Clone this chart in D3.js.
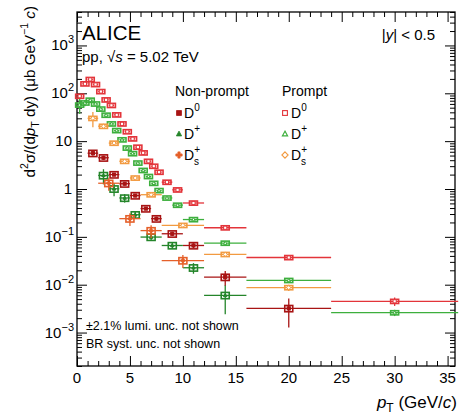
<!DOCTYPE html>
<html><head><meta charset="utf-8">
<script src="https://cdn.jsdelivr.net/npm/d3@7"></script>
<style>body{margin:0;background:#fff}svg{font-family:"Liberation Sans",Arial,sans-serif}</style>
</head><body><svg id="c" width="459" height="418"></svg>
<script>
// ---------- data ----------
const xTicksMajor = [0,5,10,15,20,25,30,35];
const yTickLabels = [{v:1e3,b:"10",e:"3"},{v:1e2,b:"10",e:"2"},{v:10,b:"10",e:""},{v:1,b:"1",e:""},{v:0.1,b:"10",e:"\u22121"},{v:0.01,b:"10",e:"\u22122"},{v:0.001,b:"10",e:"\u22123"}];

const edgesPrompt = [0,0.5,1,1.5,2,2.5,3,3.5,4,4.5,5,5.5,6,6.5,7,7.5,8,9,10,12,16,24,36];
const promptD0 = [87,158,195,153,109,73,56,35.5,23,15.8,11.2,7.5,5.7,3.8,3.0,2.25,1.39,0.96,0.51,0.155,0.037,0.0045];
const promptD0Stat = [0.05,0.04,0.03,0.03,0.03,0.03,0.03,0.03,0.03,0.03,0.03,0.03,0.03,0.03,0.03,0.03,0.03,0.03,0.04,0.05,0.1,0.2];
const promptDplus = [57,63,72,60,47,35,23,16.7,10.7,7.2,5.5,3.5,2.45,1.83,1.32,0.93,0.65,0.46,0.23,0.074,0.0123,0.0026];
const promptDplusStat = [0.35,0.15,0.08,0.05,0.05,0.05,0.05,0.05,0.05,0.05,0.05,0.05,0.05,0.05,0.05,0.05,0.05,0.05,0.05,0.1,0.1,0.15];
const edgesPromptDs = [1,2,3,4,5,6,8,12,16,24];
const promptDs = [30,20.5,9.1,3.8,1.7,0.76,0.174,0.043,0.0087];
const promptDsStat = [0.35,0.12,0.08,0.08,0.08,0.08,0.08,0.1,0.15];

const edgesNpD0 = [1,2,3,4,5,6,7,8,10,12,16,24];
const nonpromptD0 = [5.6,4.5,2.0,1.29,0.73,0.39,0.24,0.116,0.066,0.0144,0.0032];
const nonpromptD0Stat = [0.12,0.1,0.08,0.08,0.08,0.08,0.1,0.1,0.12,0.35,0.6];
const edgesNpDplus = [2,3,4,5,6,8,10,12,16];
const nonpromptDplus = [1.92,1.01,0.65,0.29,0.099,0.066,0.0226,0.006];
const nonpromptDplusStat = [0.35,0.3,0.2,0.15,0.15,0.15,0.25,0.6];
const edgesNpDs = [2,4,6,8,12];
const nonpromptDs = [1.32,0.24,0.135,0.032];
const nonpromptDsStat = [0.3,0.3,0.3,0.3];
const systPrompt = 0.1, systNonprompt = 0.15;

// ---------- layout ----------
const L=77,T=12,R=455,B=366;
const x=d3.scaleLinear().domain([0,35.7]).range([L,R]);
const y=d3.scaleLog().domain([2e-4,5e3]).range([B,T]);
const svg=d3.select('#c');

const col={pD0:"#e3343a",pDp:"#3daf3d",pDs:"#f29a40",nD0:"#a81414",nDp:"#24852a",nDs:"#e5602a"};

// axes
const xMinor=d3.range(0,36,1).filter(v=>v%5!==0);
const yMinor=[];
for(let e=-4;e<=3;e++) for(let k=2;k<=9;k++){const v=k*Math.pow(10,e); if(v>=2e-4&&v<=5e3) yMinor.push(v);}
const yMajor=[1e-3,1e-2,1e-1,1,10,100,1000];
function ax(gen,tr,vals,size){
  const g=svg.append('g').attr('transform',tr).call(gen.tickValues(vals).tickSize(size).tickFormat(''));
  g.select('.domain').remove();
  g.selectAll('line').attr('stroke','#000').attr('stroke-width',1);
}
ax(d3.axisBottom(x),`translate(0,${B})`,xTicksMajor,-10);
ax(d3.axisBottom(x),`translate(0,${B})`,xMinor,-5);
ax(d3.axisTop(x),`translate(0,${T})`,xTicksMajor,-10);
ax(d3.axisTop(x),`translate(0,${T})`,xMinor,-5);
ax(d3.axisLeft(y),`translate(${L},0)`,yMajor,-10);
ax(d3.axisLeft(y),`translate(${L},0)`,yMinor,-5);
ax(d3.axisRight(y),`translate(${R},0)`,yMajor,-10);
ax(d3.axisRight(y),`translate(${R},0)`,yMinor,-5);
svg.append('rect').attr('x',L).attr('y',T).attr('width',R-L).attr('height',B-T).attr('fill','none').attr('stroke','#000').attr('stroke-width',1.3);

// tick labels
svg.selectAll('.xl').data(xTicksMajor).enter().append('text').attr('x',d=>x(d)).attr('y',383)
  .attr('text-anchor','middle').attr('font-size',15).text(d=>d);
yTickLabels.forEach(d=>{
  const t=svg.append('text').attr('x',d.e?74:72).attr('y',y(d.v)+5).attr('text-anchor','end').attr('font-size',15);
  t.append('tspan').text(d.b);
  if(d.e) t.append('tspan').attr('font-size',11).attr('dy',-7).text(d.e);
});

// axis titles
const xt=svg.append('text').attr('x',457).attr('y',408).attr('text-anchor','end').attr('font-size',17);
xt.append('tspan').attr('font-style','italic').text('p');
xt.append('tspan').attr('font-size',12).attr('dy',4).text('T');
xt.append('tspan').attr('dy',-4).text(' (GeV/');
xt.append('tspan').attr('font-style','italic').text('c');
xt.append('tspan').text(')');

const yt=svg.append('text').attr('transform','translate(35,6) rotate(-90)').attr('text-anchor','end').attr('font-size',15.2);
yt.append('tspan').text('d');
yt.append('tspan').attr('font-size',10.5).attr('dy',-7).text('2');
yt.append('tspan').attr('dy',7).text('\u03c3/(d');
yt.append('tspan').attr('font-style','italic').text('p');
yt.append('tspan').attr('font-size',10.5).attr('dy',4).text('T');
yt.append('tspan').attr('dy',-4).text(' dy) (\u03bcb GeV');
yt.append('tspan').attr('font-size',10.5).attr('dy',-7).text('\u22121');
yt.append('tspan').attr('dy',7).text(' ');
yt.append('tspan').attr('font-style','italic').text('c');
yt.append('tspan').text(')');

// markers
function marker(g,cx,cy,type,color,s){
  if(type==='sq'){g.append('rect').attr('x',cx-s).attr('y',cy-s).attr('width',2*s).attr('height',2*s);}
  else if(type==='tri'){g.append('path').attr('d',`M${cx},${cy-s*1.2}L${cx+s*1.1},${cy+s*0.8}L${cx-s*1.1},${cy+s*0.8}Z`);}
  else if(type==='dia'){g.append('path').attr('d',`M${cx},${cy-s*1.3}L${cx+s*1.3},${cy}L${cx},${cy+s*1.3}L${cx-s*1.3},${cy}Z`);}
  else if(type==='cross'){const a=s*0.45,b=s*1.3;g.append('path').attr('d',`M${cx-a},${cy-b}h${2*a}v${b-a}h${b-a}v${2*a}h${-(b-a)}v${b-a}h${-2*a}v${-(b-a)}h${-(b-a)}v${-2*a}h${b-a}Z`);}
}
function series(edges,vals,stat,syst,color,type,filled){
  const g=svg.append('g').attr('stroke',color).attr('stroke-width',1.3);
  vals.forEach((v,i)=>{
    const lo=edges[i],hi=edges[i+1],c=(lo+hi)/2;
    g.append('line').attr('x1',x(lo)).attr('x2',x(hi)).attr('y1',y(v)).attr('y2',y(v));
    g.append('line').attr('x1',x(c)).attr('x2',x(c)).attr('y1',y(v*(1-stat[i]))).attr('y2',y(v*(1+stat[i])));
    g.append('rect').attr('x',x(c)-4).attr('width',8).attr('y',y(v*(1+syst))).attr('height',y(v*(1-syst))-y(v*(1+syst)))
      .attr('fill','none').attr('stroke-width',1.6);
    const mg=g.append('g').attr('fill',filled?color:'#fff').attr('stroke-width',1);
    marker(mg,x(c),y(v),type,color,1.6);
  });
}
series(edgesPrompt,promptD0,promptD0Stat,systPrompt,col.pD0,'sq',false);
series(edgesPrompt,promptDplus,promptDplusStat,systPrompt,col.pDp,'tri',false);
series(edgesPromptDs,promptDs,promptDsStat,systPrompt,col.pDs,'dia',false);
series(edgesNpD0,nonpromptD0,nonpromptD0Stat,systNonprompt,col.nD0,'sq',true);
series(edgesNpDplus,nonpromptDplus,nonpromptDplusStat,systNonprompt,col.nDp,'tri',true);
series(edgesNpDs,nonpromptDs,nonpromptDsStat,systNonprompt,col.nDs,'cross',true);

// texts
svg.append('text').attr('x',82).attr('y',40).attr('font-size',20.5).text('ALICE');
const pp=svg.append('text').attr('x',82).attr('y',62).attr('font-size',15);
pp.append('tspan').text('pp, \u221a');
pp.append('tspan').attr('font-style','italic').text('s');
pp.append('tspan').text(' = 5.02 TeV');
const yy=svg.append('text').attr('x',435).attr('y',40).attr('text-anchor','end').attr('font-size',15);
yy.append('tspan').text('|');
yy.append('tspan').attr('font-style','italic').text('y');
yy.append('tspan').text('| < 0.5');
svg.append('text').attr('x',86).attr('y',330).attr('font-size',12.5).text('\u00b12.1% lumi. unc. not shown');
svg.append('text').attr('x',86).attr('y',348).attr('font-size',12.5).text('BR syst. unc. not shown');

// legend
svg.append('text').attr('x',175).attr('y',96).attr('font-size',14).text('Non-prompt');
svg.append('text').attr('x',282).attr('y',96).attr('font-size',14).text('Prompt');
const legRows=[
  {yy:118,np:{c:col.nD0,t:'sq'},p:{c:col.pD0,t:'sq'},sup:'0',sub:''},
  {yy:139,np:{c:col.nDp,t:'tri'},p:{c:col.pDp,t:'tri'},sup:'+',sub:''},
  {yy:160,np:{c:col.nDs,t:'cross'},p:{c:col.pDs,t:'dia'},sup:'+',sub:'s'}
];
legRows.forEach(r=>{
  const g1=svg.append('g').attr('fill',r.np.c).attr('stroke',r.np.c).attr('stroke-width',0.8);
  marker(g1,179,r.yy-5,r.np.t,r.np.c,2.4);
  const g2=svg.append('g').attr('fill','#fff').attr('stroke',r.p.c).attr('stroke-width',1.1);
  marker(g2,285,r.yy-5,r.p.t,r.p.c,2.4);
  [184,291].forEach(xx=>{
    const t=svg.append('text').attr('x',xx).attr('y',r.yy).attr('font-size',14);
    t.append('tspan').text('D');
    t.append('tspan').attr('font-size',10).attr('dy',-7).text(r.sup);
    if(r.sub) t.append('tspan').attr('font-size',10).attr('x',xx+10).attr('dy',12).text(r.sub);
  });
});
</script></body></html>
